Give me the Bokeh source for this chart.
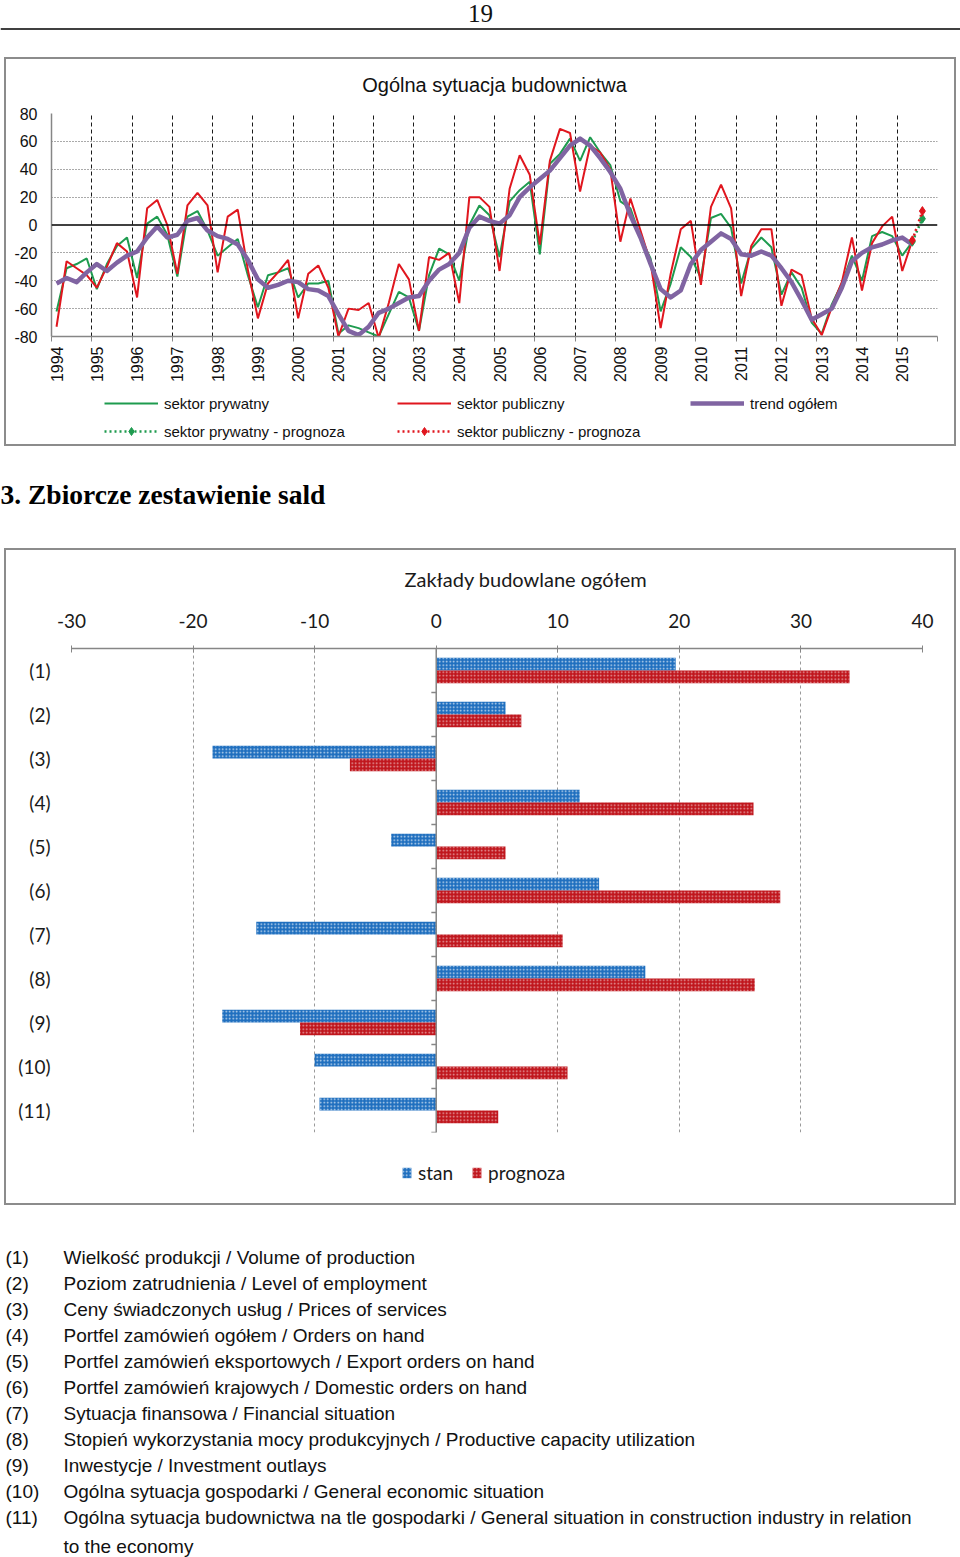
import numpy as np
from bokeh.plotting import figure
from bokeh.models import (Range1d, FactorRange, FixedTicker, Span, Legend, LegendItem,
                          ColumnDataSource)
from bokeh.layouts import column
from bokeh.embed import file_html
from bokeh.resources import INLINE
from bokeh.core.properties import value
from bokeh.transform import dodge

# ---------------- data ----------------
page_number = ["19"]
chart1_title = "Ogólna sytuacja budownictwa"
years = list(range(1994, 2016))
y_ticks = [-80, -60, -40, -20, 0, 20, 40, 60, 80]

# quarterly balances 1994 Q1 ... 2015 Q2
private = [-62, -31, -28, -24, -46, -28, -15, -9, -38, 1,
           6, -7, -37, 6, 10, -4, -22, -16, -10, -36,
           -59, -36, -34, -31, -52, -42, -42, -40, -78, -72,
           -74, -77, -80, -64, -48, -52, -76, -36, -17, -21,
           -40, 0, 14, 7, -23, 17, 25, 31, -21, 44,
           51, 62, 46, 63, 52, 43, 17, 12, -9, -24,
           -62, -42, -16, -23, -38, 5, 8, -2, -42, -17,
           -9, -16, -50, -34, -45, -70, -78, -57, -42, -22,
           -40, -8, -5, -8, -22, -12]
public = [-73, -26, -31, -36, -45, -30, -13, -19, -52, 12,
          18, 0, -35, 14, 23, 14, -34, 6, 11, -32,
          -67, -42, -34, -25, -67, -35, -29, -45, -80, -60,
          -61, -56, -81, -56, -28, -39, -76, -23, -25, -20,
          -56, 20, 20, 13, -33, 26, 50, 36, -14, 46,
          69, 66, 24, 57, 52, 40, -12, 19, -4, -27,
          -74, -35, -3, 3, -43, 13, 29, 12, -51, -15,
          -3, -3, -58, -32, -36, -67, -79, -59, -41, -9,
          -47, -13, -1, 6, -33, -11]
trend = [-42, -38, -41, -34, -28, -33, -27, -22, -19, -9,
         -1, -9, -7, 3, 5, -4, -8, -10, -14, -25,
         -39, -45, -43, -40, -41, -46, -47, -51, -64, -76,
         -79, -73, -63, -60, -56, -52, -51, -40, -32, -28,
         -20, -2, 6, 3, 1, 7, 20, 27, 33, 39,
         48, 57, 62, 57, 48, 38, 26, 7, -9, -28,
         -46, -52, -47, -28, -18, -12, -6, -10, -21, -22,
         -19, -22, -31, -41, -54, -68, -64, -60, -45, -26,
         -20, -16, -14, -11, -9, -14]
# forecast: last actual quarter -> 2015 Q3
private_fc = [-12, 4.5]
public_fc = [-11, 10]

heading = "3. Zbiorcze zestawienie sald"
chart2_title = "Zakłady budowlane ogółem"
categories = ["(1)", "(2)", "(3)", "(4)", "(5)", "(6)", "(7)", "(8)", "(9)", "(10)", "(11)"]
stan = [19.7, 5.7, -18.4, 11.8, -3.7, 13.4, -14.8, 17.2, -17.6, -10.0, -9.6]
prognoza = [34.0, 7.0, -7.1, 26.1, 5.7, 28.3, 10.4, 26.2, -11.2, 10.8, 5.1]
x_ticks2 = [-30, -20, -10, 0, 10, 20, 30, 40]

descriptions = [
    "Wielkość produkcji / Volume of production",
    "Poziom zatrudnienia / Level of employment",
    "Ceny świadczonych usług / Prices of services",
    "Portfel zamówień ogółem  / Orders on hand",
    "Portfel zamówień eksportowych / Export orders on hand",
    "Portfel zamówień krajowych / Domestic orders on hand",
    "Sytuacja finansowa / Financial situation",
    "Stopień wykorzystania mocy produkcyjnych / Productive capacity utilization",
    "Inwestycje / Investment outlays",
    "Ogólna sytuacja gospodarki / General economic situation",
    "Ogólna sytuacja budownictwa na tle gospodarki / General situation in construction industry in relation\nto the economy",
]

# ---------------- styles ----------------
W = 960
GREEN = "#1E9B4F"
RED = "#E0161E"
PURPLE = "#8064A2"
BLUE_BAR = "#1F6FBF"
RED_BAR = "#C0161D"
SANS = "Liberation Sans"
SERIF = "Liberation Serif"
CAL = "Lato"
LINE = "linear-gradient(#8c8c8c,#8c8c8c)"


def box_bg(top):
    """CSS background drawing the grey box frame (top part or bottom part)."""
    if top:
        parts = [f"{LINE} left 4px top 4px / 2px calc(100% - 4px) no-repeat",
                 f"{LINE} right 4px top 4px / 2px calc(100% - 4px) no-repeat",
                 f"{LINE} left 4px top 4px / calc(100% - 8px) 2px no-repeat"]
    else:
        parts = [f"{LINE} left 4px top 0px / 2px calc(100% - 4px) no-repeat",
                 f"{LINE} right 4px top 0px / 2px calc(100% - 4px) no-repeat",
                 f"{LINE} left 4px bottom 4px / calc(100% - 8px) 2px no-repeat"]
    return {"background": ", ".join(parts)}


def blank(h):
    return figure(width=W, height=h, x_range=Range1d(0, W), y_range=Range1d(h, 0),
                  output_backend="svg", toolbar_location=None, min_border=0,
                  x_axis_type=None, y_axis_type=None, outline_line_color=None)


def legend_fig(h, left, right):
    # ranges far away from the data: only the legend of this strip is visible
    f = figure(width=W, height=h, x_range=Range1d(0, 1), y_range=Range1d(1000, 1001),
               output_backend="svg", toolbar_location=None, min_border_left=left,
               min_border_right=right, min_border_top=0, min_border_bottom=0,
               x_axis_type=None, y_axis_type=None, outline_line_color=None,
               border_fill_color=None, background_fill_color=None)
    f.styles = box_bg(False)
    return f

# ---------------- header ----------------
fa = blank(53)
fa.text(x=[W / 2], y=[12.5], text=page_number, text_font=value(SERIF), text_font_size="25px",
        text_align="center", text_baseline="alphabetic", text_color="#111111")
fa.add_layout(Span(location=28.5, dimension="width", line_color="#404040", line_width=2))

# ---------------- line chart ----------------
fb = figure(width=W, height=335, x_range=Range1d(-0.5, 87.5), y_range=Range1d(-80, 80),
            output_backend="svg", toolbar_location=None, title=chart1_title,
            min_border_left=51, min_border_right=23, min_border_top=58, min_border_bottom=52,
            outline_line_color=None, border_fill_color=None, background_fill_color=None)
fb.styles = box_bg(True)
fb.title.text_font = SANS
fb.title.text_font_size = "20px"
fb.title.text_font_style = "normal"
fb.title.align = "center"
fb.title.text_color = "#111111"
fb.title.standoff = 36

nq = len(years)
fb.xaxis.ticker = FixedTicker(ticks=[4 * k for k in range(nq)],
                              minor_ticks=[4 * k - 0.5 for k in range(nq + 1)])
fb.xaxis.major_label_overrides = {4 * k: str(y) for k, y in enumerate(years)}
fb.xaxis.major_label_orientation = np.pi / 2
fb.xaxis.major_tick_out = 0
fb.xaxis.major_tick_in = 0
fb.xaxis.minor_tick_out = 5
fb.xaxis.minor_tick_in = 0
fb.xaxis.minor_tick_line_color = "#868686"
fb.xaxis.axis_line_color = "#868686"
fb.xaxis.axis_line_width = 1.5
fb.xaxis.major_label_standoff = 5
fb.xaxis.major_label_text_font = SANS
fb.xaxis.major_label_text_font_size = "16px"
fb.xaxis.major_label_text_color = "#111111"

fb.yaxis.ticker = FixedTicker(ticks=y_ticks)
fb.yaxis.major_label_overrides = {t: str(t) for t in y_ticks}
fb.yaxis.major_tick_out = 0
fb.yaxis.major_tick_in = 0
fb.yaxis.minor_tick_line_color = None
fb.yaxis.axis_line_color = "#868686"
fb.yaxis.axis_line_width = 1.5
fb.yaxis.major_label_standoff = 14
fb.yaxis.major_label_text_font = SANS
fb.yaxis.major_label_text_font_size = "16px"
fb.yaxis.major_label_text_color = "#111111"

fb.xgrid.ticker = FixedTicker(ticks=[4 * k - 0.5 for k in range(1, nq + 1)])
fb.xgrid.grid_line_color = "#1a1a1a"
fb.xgrid.grid_line_dash = "4 3"
fb.ygrid.ticker = FixedTicker(ticks=[t for t in y_ticks if t != 0])
fb.ygrid.grid_line_color = "#555555"
fb.ygrid.grid_line_dash = "1 2"
fb.add_layout(Span(location=0, dimension="width", line_color="black", line_width=1.5))

S_PRIV = dict(line_color=GREEN, line_width=2)
S_PUB = dict(line_color=RED, line_width=2)
S_TREND = dict(line_color=PURPLE, line_width=4.5, line_join="round")
S_PRIV_FC = dict(line_color=GREEN, line_width=2.5, line_dash="2 3")
S_PUB_FC = dict(line_color=RED, line_width=2.5, line_dash="2 3")

xq = list(range(len(private)))
fc_x = [len(private) - 1, len(private)]


def draw_series(f):
    rs = {}
    rs["g"] = f.line(xq, private, **S_PRIV)
    rs["r"] = f.line(xq, public, **S_PUB)
    rs["t"] = f.line(xq, trend, **S_TREND)
    rs["gf"] = f.line(fc_x, private_fc, **S_PRIV_FC)
    rs["gs"] = f.scatter(fc_x, private_fc, marker="diamond", size=9, color=GREEN)
    rs["rf"] = f.line(fc_x, public_fc, **S_PUB_FC)
    rs["rs"] = f.scatter(fc_x, public_fc, marker="diamond", size=9, color=RED)
    return rs


draw_series(fb)

# legend strip of the line chart (same series, out of its view range)
fbl = legend_fig(62, 51, 23)
lr_ = draw_series(fbl)
leg1 = Legend(items=[
    LegendItem(label="sektor prywatny", renderers=[lr_["g"]]),
    LegendItem(label="sektor publiczny", renderers=[lr_["r"]]),
    LegendItem(label="trend ogółem", renderers=[lr_["t"]]),
    LegendItem(label="sektor prywatny - prognoza", renderers=[lr_["gf"], lr_["gs"]]),
    LegendItem(label="sektor publiczny - prognoza", renderers=[lr_["rf"], lr_["rs"]]),
], location=(53, 9), orientation="horizontal", ncols=3, glyph_width=54, glyph_height=20,
    label_width=225, label_height=20, label_standoff=6, spacing=8, padding=0, margin=0,
    border_line_color=None, background_fill_alpha=0,
    label_text_font=SANS, label_text_font_size="15px", label_text_color="#111111")
fbl.add_layout(leg1)
box_b = column(fb, fbl, spacing=0)

# ---------------- heading ----------------
fc = blank(94)
fc.text(x=[0], y=[44], text=[heading], text_font=value(SERIF), text_font_style="bold",
        text_font_size="27.5px", text_baseline="alphabetic", text_color="#000000")

# ---------------- bar chart ----------------
src = ColumnDataSource(dict(cat=categories, stan=stan, prognoza=prognoza))
fd = figure(width=W, height=606, x_range=Range1d(-30, 40),
            y_range=FactorRange(factors=categories[::-1], range_padding=0, factor_padding=0),
            x_axis_location="above", output_backend="svg", toolbar_location=None,
            title=chart2_title, min_border_left=71, min_border_right=38,
            min_border_top=104, min_border_bottom=18, outline_line_color=None,
            border_fill_color=None, background_fill_color=None)
fd.styles = box_bg(True)
fd.title.text_font = CAL
fd.title.text_font_size = "20px"
fd.title.text_font_style = "normal"
fd.title.align = "left"
fd.title.offset = 333
fd.title.text_color = "#1a1a1a"
fd.title.standoff = 40

fd.xaxis.ticker = FixedTicker(ticks=x_ticks2)
fd.xaxis.major_label_overrides = {t: str(t) for t in x_ticks2}
fd.xaxis.major_label_text_font = CAL
fd.xaxis.major_label_text_font_size = "19px"
fd.xaxis.major_label_text_color = "#1a1a1a"
fd.xaxis.axis_line_color = "#868686"
fd.xaxis.axis_line_width = 1.5
fd.xaxis.major_tick_line_color = "#868686"
fd.xaxis.major_tick_in = 4
fd.xaxis.major_tick_out = 3
fd.xaxis.major_label_standoff = 18

fd.yaxis.major_label_text_font = CAL
fd.yaxis.major_label_text_font_size = "19px"
fd.yaxis.major_label_text_color = "#1a1a1a"
fd.yaxis.axis_line_color = None
fd.yaxis.major_tick_line_color = None
fd.yaxis.major_label_standoff = 15

fd.xgrid.grid_line_color = "#9a9a9a"
fd.xgrid.grid_line_dash = "3 3"
fd.ygrid.visible = False

BAR_STAN = dict(fill_color=BLUE_BAR, line_color=None, hatch_pattern="dot", hatch_color="white",
                hatch_alpha=0.75, hatch_scale=3.5, hatch_weight=1.4)
BAR_PROG = dict(fill_color=RED_BAR, line_color=None, hatch_pattern="dot", hatch_color="white",
                hatch_alpha=0.6, hatch_scale=3.5, hatch_weight=1.4)
fd.hbar(y=dodge("cat", 0.145, range=fd.y_range), right="stan", left=0, height=0.29,
        source=src, **BAR_STAN)
fd.hbar(y=dodge("cat", -0.145, range=fd.y_range), right="prognoza", left=0, height=0.29,
        source=src, **BAR_PROG)
fd.add_layout(Span(location=0, dimension="height", line_color="#868686", line_width=1.5))
bounds = list(range(len(categories)))
fd.segment(x0=[-0.4] * len(bounds), x1=[0] * len(bounds), y0=bounds, y1=bounds,
           line_color="#868686", line_width=1.5)

fdl = legend_fig(59, 71, 38)
idx = list(range(len(categories)))
ls = fdl.hbar(y=idx, right=stan, left=0, height=0.29, **BAR_STAN)
lp = fdl.hbar(y=idx, right=prognoza, left=0, height=0.29, **BAR_PROG)
leg2 = Legend(items=[LegendItem(label="stan", renderers=[ls]),
                     LegendItem(label="prognoza", renderers=[lp])],
              location=(330, 25), orientation="horizontal", glyph_width=11, glyph_height=13,
              label_standoff=6, spacing=18, padding=0, margin=0, border_line_color=None,
              background_fill_alpha=0, label_text_font=CAL, label_text_font_size="19px",
              label_text_color="#1a1a1a")
fdl.add_layout(leg2)
box_d = column(fd, fdl, spacing=0)

# ---------------- list ----------------
fe = blank(348)
ys = [37.5 + 26 * k for k in range(len(categories))]
fe.text(x=[5] * len(categories), y=ys, text=categories, text_font=value(SANS),
        text_font_size="19px", text_baseline="top", text_color="#111111")
fe.text(x=[63] * len(categories), y=ys, text=descriptions, text_font=value(SANS),
        text_font_size="19px", text_baseline="top", text_color="#111111",
        text_line_height=26 / 19)

open("out.html", "w").write(file_html([fa, box_b, fc, box_d, fe], INLINE))
